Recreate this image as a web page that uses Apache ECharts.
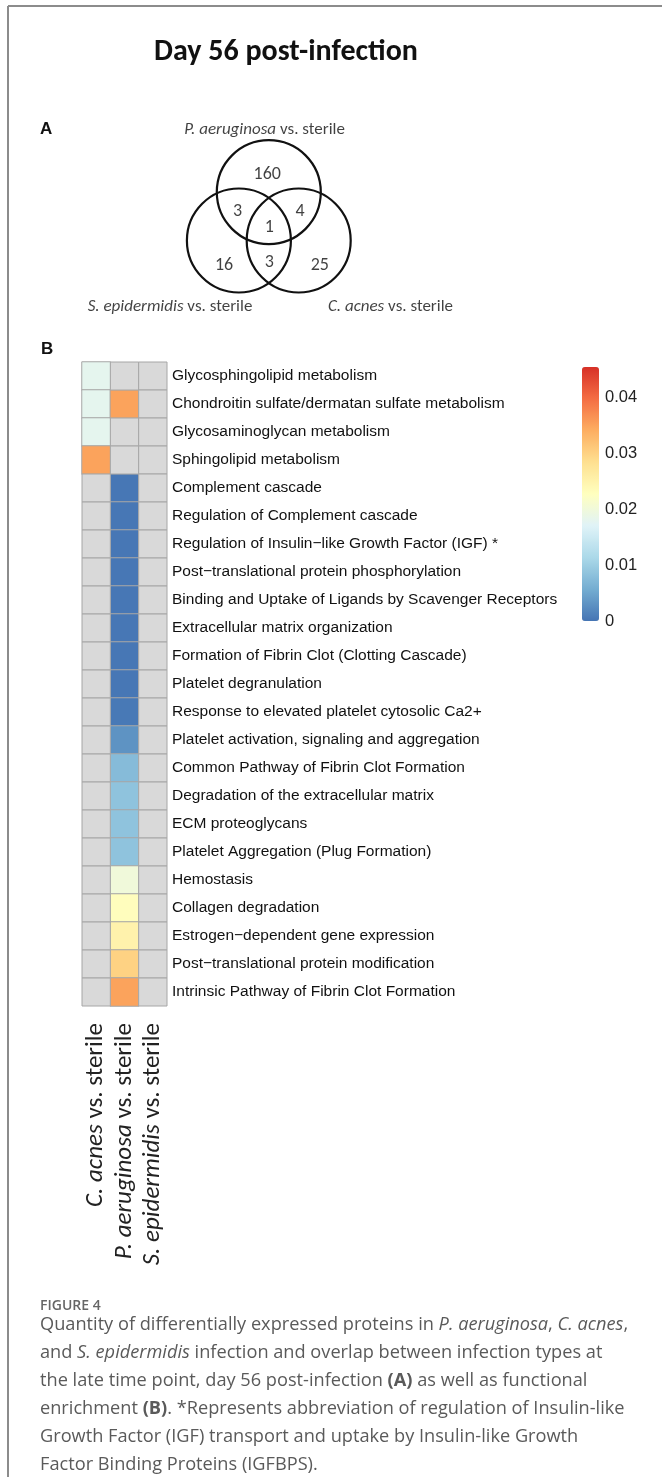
<!DOCTYPE html>
<html>
<head>
<meta charset="utf-8">
<script src="https://cdn.jsdelivr.net/npm/echarts@6/dist/echarts.min.js"></script>
<style>
  * { margin: 0; padding: 0; }
  body { background: #fff; }
  #fig { width: 662px; height: 1477px; }
</style>
</head>
<body>
<div id="fig"></div>
<script>
// pathway rows, top to bottom
const rowNames = [
  "Glycosphingolipid metabolism",
  "Chondroitin sulfate/dermatan sulfate metabolism",
  "Glycosaminoglycan metabolism",
  "Sphingolipid metabolism",
  "Complement cascade",
  "Regulation of Complement cascade",
  "Regulation of Insulin\u2212like Growth Factor (IGF) *",
  "Post\u2212translational protein phosphorylation",
  "Binding and Uptake of Ligands by Scavenger Receptors",
  "Extracellular matrix organization",
  "Formation of Fibrin Clot (Clotting Cascade)",
  "Platelet degranulation",
  "Response to elevated platelet cytosolic Ca2+",
  "Platelet activation, signaling and aggregation",
  "Common Pathway of Fibrin Clot Formation",
  "Degradation of the extracellular matrix",
  "ECM proteoglycans",
  "Platelet Aggregation (Plug Formation)",
  "Hemostasis",
  "Collagen degradation",
  "Estrogen\u2212dependent gene expression",
  "Post\u2212translational protein modification",
  "Intrinsic Pathway of Fibrin Clot Formation"
];

const colNames = ["C. acnes vs. sterile", "P. aeruginosa vs. sterile", "S. epidermidis vs. sterile"];

// adjusted p-values per comparison (null = not enriched)
const cAcnes = [0.018, 0.018, 0.018, 0.035, null, null, null, null, null, null, null, null,
  null, null, null, null, null, null, null, null, null, null, null];
const pAeruginosa = [null, 0.035, null, null, 0.0002, 0.0002, 0.0002, 0.0002, 0.0002, 0.0002, 0.0002, 0.0002,
  0.0004, 0.003, 0.0075, 0.0085, 0.0085, 0.0085, 0.020, 0.023, 0.025, 0.030, 0.035];
const sEpidermidis = [null, null, null, null, null, null, null, null, null, null, null, null,
  null, null, null, null, null, null, null, null, null, null, null];

const colorMax = 0.0454;
const colorTicks = [0, 0.01, 0.02, 0.03, 0.04];

// venn: P only, P&S, P&C, all three, S only, S&C, C only
const vennSets = ["P. aeruginosa vs. sterile", "S. epidermidis vs. sterile", "C. acnes vs. sterile"];
const vennCounts = [160, 3, 4, 1, 16, 3, 25];

// venn layout (units of circle radius)
const vennCenters = [[0, 0.465], [-0.575, -0.465], [0.575, -0.465]];
const vennSpots = [[-0.03, 0.81], [-0.6, 0.09], [0.6, 0.09], [0.01, -0.21], [-0.86, -0.95], [0.01, -0.88], [0.98, -0.95]];
const vennLabelSpots = [[-0.08, 1.67], [-1.9, -1.74], [2.34, -1.74]];

const columns = [cAcnes, pAeruginosa, sEpidermidis];
const cells = [];
const naCells = [];
columns.forEach((col, c) => {
  col.forEach((v, r) => {
    if (v === null) naCells.push([c, r]);
    else cells.push([c, r, v]);
  });
});

function italicLabel(name) {
  const i = name.indexOf(" vs.");
  return "{i|" + name.slice(0, i) + "}" + name.slice(i);
}

const chart = echarts.init(document.getElementById("fig"), null, { renderer: "canvas" });

const captionFont = "'Open Sans', sans-serif";
const capSize = 18.2;
const captionRich = {
  i: { fontStyle: "italic", fontFamily: captionFont, fontSize: capSize, color: "#5a5a5a" },
  b: { fontWeight: "bold", fontFamily: captionFont, fontSize: capSize, color: "#5a5a5a" }
};
const captionLines = [
  "Quantity of differentially expressed proteins in {i|P. aeruginosa}, {i|C. acnes},",
  "and {i|S. epidermidis} infection and overlap between infection types at",
  "the late time point, day 56 post-infection {b|(A)} as well as functional",
  "enrichment {b|(B)}. *Represents abbreviation of regulation of Insulin-like",
  "Growth Factor (IGF) transport and uptake by Insulin-like Growth",
  "Factor Binding Proteins (IGFBPS)."
];

const graphics = [
  { type: "line", shape: { x1: 8, y1: 6, x2: 662, y2: 6 }, style: { stroke: "#8c8c8c", lineWidth: 2 } },
  { type: "line", shape: { x1: 8, y1: 6, x2: 8, y2: 1477 }, style: { stroke: "#8c8c8c", lineWidth: 2 } },
  {
    type: "text", x: 286, y: 52,
    style: { text: "Day 56 post-infection", font: "bold 30px Carlito, Lato, sans-serif",
      fill: "#111", textAlign: "center", textVerticalAlign: "middle" }
  },
  {
    type: "text", x: 40, y: 129,
    style: { text: "A", font: "bold 17px 'Liberation Sans', Arial", fill: "#111", textVerticalAlign: "middle" }
  },
  {
    type: "text", x: 41, y: 349,
    style: { text: "B", font: "bold 17px 'Liberation Sans', Arial", fill: "#111", textVerticalAlign: "middle" }
  },
  {
    type: "text", x: 40, y: 1306,
    style: { text: "FIGURE 4", font: "600 14px " + captionFont, fill: "#666", textVerticalAlign: "middle" }
  }
];
captionLines.forEach((line, k) => {
  graphics.push({
    type: "text", x: 40, y: 1325 + k * 28,
    style: {
      text: line, fontFamily: captionFont, fontSize: capSize, fill: "#5a5a5a",
      textVerticalAlign: "middle", rich: captionRich
    }
  });
});

const colFont = "Carlito, Lato, sans-serif";

const option = {
  animation: false,
  backgroundColor: "#fff",
  graphic: graphics,
  grid: [
    { left: 82, top: 362, width: 85, height: 644 },
    { left: 582, top: 367, width: 17, height: 254 },
    { left: 133.6, top: 107.1, width: 270.4, height: 218.4 }
  ],
  xAxis: [
    {
      gridIndex: 0, type: "category", data: colNames,
      axisLine: { show: false }, axisTick: { show: false }, splitLine: { show: false },
      axisLabel: {
        interval: 0, hideOverlap: false,
        rotate: 90, margin: 17, fontFamily: colFont, fontSize: 25, color: "#222",
        formatter: italicLabel,
        rich: { i: { fontStyle: "italic", fontFamily: colFont, fontSize: 25, color: "#222" } }
      }
    },
    { gridIndex: 1, type: "value", show: false },
    { gridIndex: 2, type: "value", min: -2.6, max: 2.6, show: false }
  ],
  yAxis: [
    {
      gridIndex: 0, type: "category", data: rowNames, inverse: true, position: "right",
      axisLine: { show: false }, axisTick: { show: false }, splitLine: { show: false },
      axisLabel: { interval: 0, margin: 5, fontFamily: "'Liberation Sans', Arial", fontSize: 15.5, color: "#111" }
    },
    {
      gridIndex: 1, type: "value", min: 0, max: colorMax, interval: 0.01, position: "right",
      axisLine: { show: false }, axisTick: { show: false }, splitLine: { show: false },
      axisLabel: {
        margin: 6, fontFamily: "'Liberation Sans', Arial", fontSize: 16.5, color: "#222",
        showMaxLabel: false,
        formatter: v => (colorTicks.some(t => Math.abs(t - v) < 1e-9) ? (v === 0 ? "0" : v.toFixed(2)) : "")
      }
    },
    { gridIndex: 2, type: "value", min: -2.1, max: 2.1, show: false }
  ],
  visualMap: {
    type: "continuous", min: 0, max: colorMax, seriesIndex: 0, dimension: 2,
    calculable: false, orient: "vertical", left: 582, top: 367, itemWidth: 17, itemHeight: 254,
    padding: 0, hoverLink: false,
    inRange: { color: ["#4575b4", "#74add1", "#abd9e9", "#e0f3f8", "#ffffbf", "#fee090", "#fdae61", "#f46d43", "#d73027"] }
  },
  series: [
    {
      type: "heatmap", xAxisIndex: 0, yAxisIndex: 0, data: cells,
      itemStyle: { borderColor: "#a6a6a6", borderWidth: 1 }
    },
    {
      type: "custom", xAxisIndex: 0, yAxisIndex: 0, data: naCells,
      renderItem: (params, api) => {
        const p = api.coord([api.value(0), api.value(1)]);
        const s = api.size([1, 1]);
        return {
          type: "rect",
          shape: { x: p[0] - s[0] / 2, y: p[1] - s[1] / 2, width: s[0], height: s[1] },
          style: { fill: "#d9d9d9", stroke: "#a6a6a6", lineWidth: 1 }
        };
      }
    },
    {
      type: "custom", xAxisIndex: 2, yAxisIndex: 2, data: vennCenters,
      renderItem: (params, api) => {
        const p = api.coord([api.value(0), api.value(1)]);
        const r = api.size([1, 0])[0];
        return {
          type: "circle", shape: { cx: p[0], cy: p[1], r: r },
          style: { fill: "none", stroke: "#111", lineWidth: 2.2 }
        };
      }
    },
    {
      type: "scatter", xAxisIndex: 2, yAxisIndex: 2, symbolSize: 0, silent: true,
      data: vennCounts.map((n, k) => [vennSpots[k][0], vennSpots[k][1], n]),
      label: {
        show: true, position: "inside", formatter: p => String(p.value[2]),
        fontFamily: colFont, fontSize: 18, color: "#111"
      }
    },
    {
      type: "scatter", xAxisIndex: 2, yAxisIndex: 2, symbolSize: 0, silent: true,
      data: vennSets.map((name, k) => ({ value: [vennLabelSpots[k][0], vennLabelSpots[k][1]], name: name })),
      label: {
        show: true, position: "inside", formatter: p => italicLabel(p.name),
        fontFamily: colFont, fontSize: 17, color: "#111",
        rich: { i: { fontStyle: "italic", fontFamily: colFont, fontSize: 17, color: "#111" } }
      }
    }
  ]
};

chart.setOption(option);
window.addEventListener("resize", chart.resize);
</script>
</body>
</html>
